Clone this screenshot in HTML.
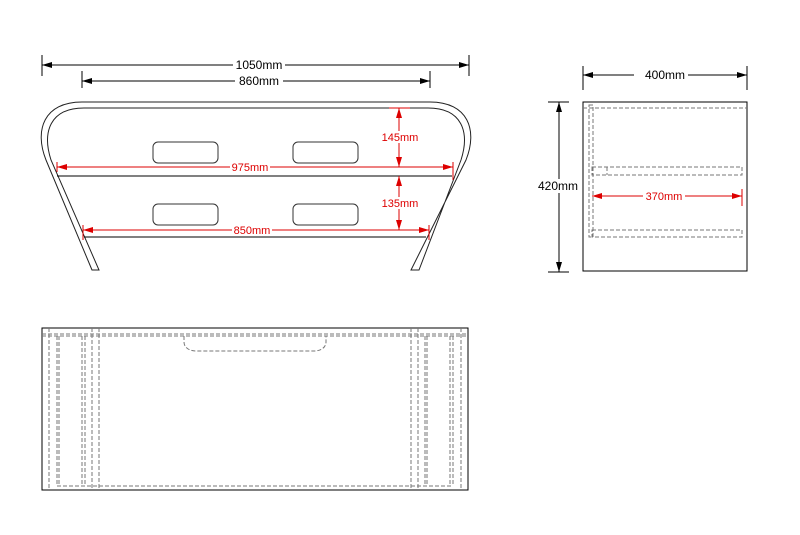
<!DOCTYPE html>
<html><head><style>body{margin:0;background:#fff}svg{display:block}text{font-family:"Liberation Sans",Arial,sans-serif}</style></head><body>
<svg width="800" height="535" viewBox="0 0 800 535" xmlns="http://www.w3.org/2000/svg">
<defs>
<marker id="ab" markerWidth="10" markerHeight="6" refX="10" refY="3" orient="auto-start-reverse" markerUnits="userSpaceOnUse"><path d="M0,0 L10,3 L0,6 z" fill="#000"/></marker>
<marker id="ar" markerWidth="10" markerHeight="6" refX="10" refY="3" orient="auto-start-reverse" markerUnits="userSpaceOnUse"><path d="M0,0 L10,3 L0,6 z" fill="#d00"/></marker>
</defs>
<g stroke="#000" stroke-width="1" fill="none">
<!-- front dims -->
<line x1="42" y1="55" x2="42" y2="76"/><line x1="469" y1="55" x2="469" y2="76"/>
<line x1="42" y1="65" x2="469" y2="65" marker-start="url(#ab)" marker-end="url(#ab)"/>
<line x1="82" y1="71" x2="82" y2="88"/><line x1="430" y1="71" x2="430" y2="88"/>
<line x1="82" y1="81" x2="430" y2="81" marker-start="url(#ab)" marker-end="url(#ab)"/>
<!-- frame -->
<path d="M92 270 L46 160 C34 130 44 102 82 102 L430 102 C468 102 478 130 466 160 L411 270 L419 270 L461 160 C470 132 462 108 428 108 L84 108 C50 108 42 132 51 160 L99 270 Z" stroke="#222"/>
<line x1="57" y1="176" x2="452" y2="176"/>
<line x1="84" y1="237" x2="426" y2="237"/>
<g stroke="#333"><rect x="153" y="142" width="65" height="21" rx="5"/><rect x="293" y="142" width="65" height="21" rx="5"/><rect x="153" y="204" width="65" height="21" rx="5"/><rect x="293" y="204" width="65" height="21" rx="5"/></g>
<!-- side -->
<rect x="583" y="102" width="164" height="169"/>
<line x1="583" y1="66" x2="583" y2="90"/><line x1="747" y1="66" x2="747" y2="90"/>
<line x1="583" y1="75" x2="747" y2="75" marker-start="url(#ab)" marker-end="url(#ab)"/>
<line x1="548" y1="102" x2="569" y2="102"/><line x1="548" y1="272" x2="569" y2="272"/>
<line x1="559" y1="102" x2="559" y2="272" marker-start="url(#ab)" marker-end="url(#ab)"/>
<!-- top -->
<rect x="42" y="328" width="426" height="162"/>
</g>
<g stroke="#777" stroke-width="1" fill="none" stroke-dasharray="4,2">
<line x1="583" y1="108" x2="747" y2="108"/>
<rect x="589" y="105" width="4" height="132"/>
<rect x="592" y="167" width="150" height="8"/>
<line x1="607" y1="167" x2="607" y2="175"/>
<rect x="592" y="230" width="150" height="7"/>
<line x1="42" y1="334" x2="468" y2="334"/><line x1="42" y1="336" x2="468" y2="336"/>
<line x1="49" y1="328" x2="49" y2="490"/><line x1="99" y1="328" x2="99" y2="490"/><line x1="92" y1="328" x2="92" y2="490"/>
<line x1="411" y1="328" x2="411" y2="490"/><line x1="418" y1="328" x2="418" y2="490"/><line x1="461" y1="328" x2="461" y2="490"/>
<line x1="57" y1="336" x2="57" y2="486"/><line x1="59" y1="336" x2="59" y2="486"/><line x1="82" y1="336" x2="82" y2="486"/><line x1="85" y1="336" x2="85" y2="486"/>
<line x1="425" y1="336" x2="425" y2="486"/><line x1="427" y1="336" x2="427" y2="486"/><line x1="450" y1="336" x2="450" y2="486"/><line x1="453" y1="336" x2="453" y2="486"/>
<line x1="57" y1="486" x2="453" y2="486"/>
<path d="M184 336 L184 342 C184 348 190 351 196 351 L314 351 C320 351 326 348 326 342 L326 336"/>
</g>
<g stroke="#d00" stroke-width="1" fill="none">
<line x1="57" y1="162" x2="57" y2="172"/><line x1="453" y1="162" x2="453" y2="180"/>
<line x1="57" y1="167" x2="453" y2="167" marker-start="url(#ar)" marker-end="url(#ar)"/>
<line x1="83" y1="225" x2="83" y2="240"/><line x1="429" y1="225" x2="429" y2="240"/>
<line x1="83" y1="230" x2="429" y2="230" marker-start="url(#ar)" marker-end="url(#ar)"/>
<line x1="389" y1="108" x2="410" y2="108"/>
<line x1="399" y1="108" x2="399" y2="167" marker-start="url(#ar)" marker-end="url(#ar)"/>
<line x1="399" y1="176" x2="399" y2="230" marker-start="url(#ar)" marker-end="url(#ar)"/>
<line x1="742" y1="189" x2="742" y2="206"/>
<line x1="592" y1="196" x2="742" y2="196" marker-start="url(#ar)" marker-end="url(#ar)"/>
</g>
<g font-size="12" text-anchor="middle">
<rect x="233" y="58" width="52" height="14" fill="#fff"/><text x="259" y="69">1050mm</text>
<rect x="235" y="74" width="48" height="14" fill="#fff"/><text x="259" y="85">860mm</text>
<rect x="634" y="68" width="54" height="14" fill="#fff"/><text x="665" y="79">400mm</text>
<rect x="535" y="179" width="46" height="14" fill="#fff"/><text x="558" y="190">420mm</text>
</g>
<g font-size="11" text-anchor="middle" fill="#d00">
<rect x="230" y="161" width="40" height="12" fill="#fff"/><text x="250" y="171">975mm</text>
<rect x="232" y="224" width="40" height="12" fill="#fff"/><text x="252" y="234">850mm</text>
<rect x="380" y="131" width="40" height="12" fill="#fff"/><text x="400" y="141">145mm</text>
<rect x="380" y="197" width="40" height="12" fill="#fff"/><text x="400" y="207">135mm</text>
<rect x="643" y="190" width="42" height="12" fill="#fff"/><text x="664" y="200">370mm</text>
</g>
</svg>
</body></html>
